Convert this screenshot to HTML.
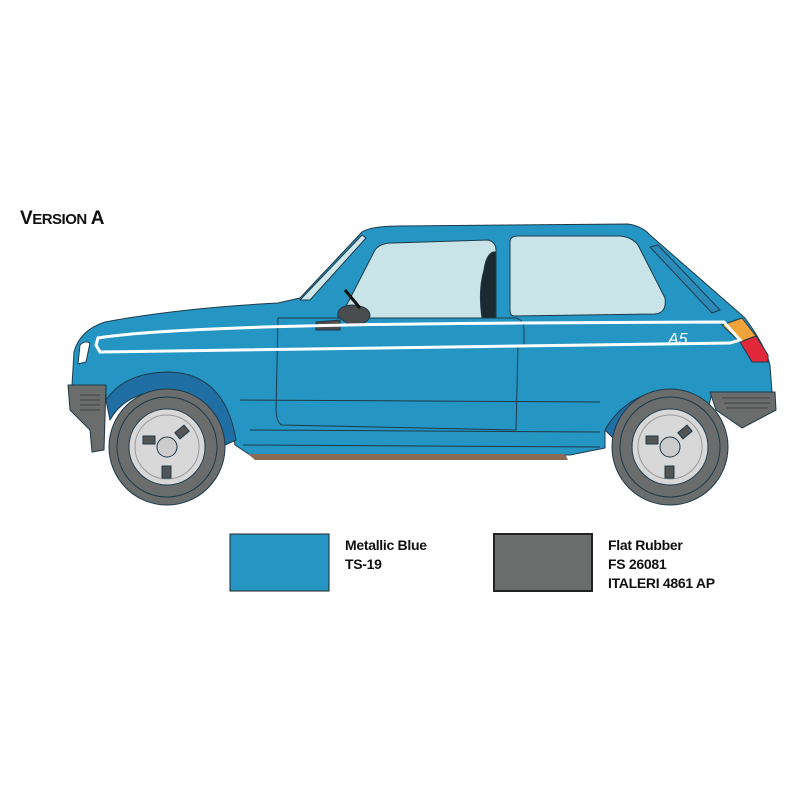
<!DOCTYPE html>
<html><head><style>
html,body{margin:0;padding:0;background:#fff;width:800px;height:800px;overflow:hidden}
.t{position:absolute;font-family:"Liberation Sans",sans-serif;font-weight:bold;color:#111;font-size:14px;line-height:19px;letter-spacing:-0.3px}
</style></head><body>
<div class="t" style="left:20px;top:209px;font-size:19px;letter-spacing:-0.5px">V<span style="font-size:15px">ERSION</span> A</div>
<svg width="800" height="800" style="position:absolute;left:0;top:0" viewBox="0 0 800 800">
<g stroke="#1d3a4a" stroke-width="1" stroke-linejoin="round">
<!-- body -->
<path d="M72,385 L74,352 Q80,330 105,322 Q180,308 278,303 L300,298 L362,232 Q372,226 400,226 L628,224 Q642,226 650,235 L745,318 Q765,345 770,365 L772,392 L712,392 L708,410 Q690,392 665,392 Q625,395 605,430 L605,448 L570,455 L250,455 L235,445 Q225,385 170,380 Q120,380 106,400 L106,385 Z" fill="#2596c4"/>
<!-- wheel arch darker -->
<path d="M106,400 Q125,372 170,372 Q225,374 236,440 L225,445 Q215,392 168,390 Q125,392 110,420 Z" fill="#1f6fa5"/>
<path d="M605,430 Q625,395 665,390 Q700,392 712,412 L705,420 Q690,400 665,400 Q630,402 615,440 Z" fill="#1f6fa5"/>
<!-- windshield -->
<path d="M300,300 L362,235 L366,238 L310,300 Z" fill="#cfe6ea"/>
<!-- front window -->
<path d="M340,318 L375,250 Q380,243 392,243 L488,240 Q496,242 496,250 L496,318 Z" fill="#c9e4e9"/>
<!-- seat -->
<path d="M482,318 Q478,290 484,270 Q486,255 493,252 L496,252 L496,318 Z" fill="#1b2a30"/>
<!-- rear window -->
<path d="M510,242 Q510,236 518,236 L620,236 Q632,237 638,245 L665,298 Q667,313 655,314 L514,316 Q510,316 510,310 Z" fill="#c9e4e9"/>
<!-- rear vent -->
<path d="M650,247 L658,245 L720,310 L712,313 Z" fill="#2a8bb8"/>
<!-- door -->
<path d="M278,318 L516,318 Q524,320 524,330 L524,345 L518,345 L516,430 L281,425 Q276,420 276,410 Z" fill="none"/>
<path d="M240,400 L600,402 M250,430 L600,432 M243,445 L600,447" fill="none"/>
<!-- sill -->
<path d="M248,454 L565,454 L568,460 L255,460 Z" fill="#8a6a55" stroke="none"/>
<!-- tail light -->
<path d="M722,325 L742,318 L756,336 L740,342 Z" fill="#f0a33a"/>
<path d="M740,342 L756,336 L768,355 L768,362 L752,362 Z" fill="#e0283a"/>
<!-- bumpers -->
<path d="M68,385 L106,385 L104,450 L92,452 L90,430 L70,410 Z" fill="#6b6d6c"/>
<path d="M710,392 L775,392 L776,410 L742,428 L716,410 Z" fill="#6b6d6c"/>
<g stroke="#444"><path d="M80,395 H100 M80,400 H100 M80,405 H100 M80,410 H100 M722,398 H770 M724,403 H770 M726,408 H768" fill="none"/></g>
<!-- headlight -->
<path d="M80,345 Q85,340 90,343 L86,362 L78,364 Z" fill="#fff"/>
<!-- mirror -->
<path d="M338,317 Q336,306 352,305 Q370,306 370,316 Q368,325 350,325 Z" fill="#4a4d4d"/>
<path d="M316,322 L340,320 L340,330 L316,330 Z" fill="#4a4d4d"/>
<path d="M345,290 L360,308" stroke="#111" stroke-width="3"/>
<!-- wheels -->
<g id="w">
<circle cx="167" cy="447" r="58" fill="#6b6d6c"/>
<circle cx="167" cy="447" r="50" fill="none"/>
<circle cx="167" cy="447" r="38" fill="#d8d8d8"/>
<circle cx="167" cy="447" r="32" fill="none" stroke="#999"/>
<circle cx="167" cy="447" r="10" fill="#ccc"/>
<rect x="143" y="436" width="12" height="8" fill="#555"/>
<rect x="176" y="428" width="12" height="8" fill="#555" transform="rotate(-40 182 432)"/>
<rect x="162" y="466" width="9" height="12" fill="#555"/>
</g>
<use href="#w" transform="translate(503,0)"/>
</g>
<!-- stripes -->
<path d="M96,345 L98,338 Q180,325 520,323 L724,322 L740,340 L730,343 L100,352 Z" fill="none" stroke="#fff" stroke-width="3"/>
<text x="668" y="344" font-family="Liberation Sans,sans-serif" font-style="italic" font-size="16" fill="#fff">A5</text>
<!-- legend -->
<rect x="230" y="534" width="99" height="57" fill="#2596c4" stroke="#222"/>
<rect x="494" y="534" width="98" height="57" fill="#6b6d6c" stroke="#222" stroke-width="2"/>
</svg>
<div class="t" style="left:345px;top:536px">Metallic Blue<br>TS-19</div>
<div class="t" style="left:608px;top:536px">Flat Rubber<br>FS 26081<br>ITALERI 4861 AP</div>
</body></html>
